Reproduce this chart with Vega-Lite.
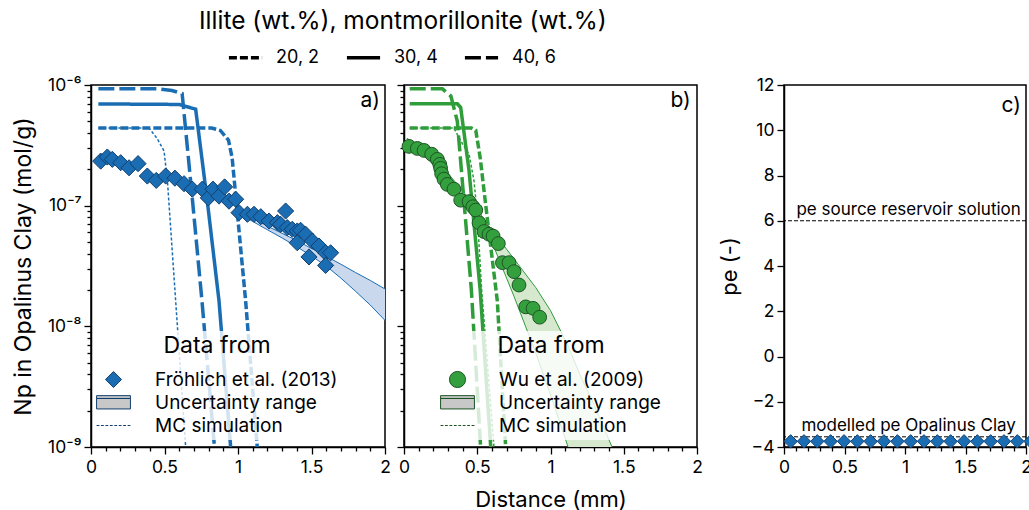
{
  "$schema": "https://vega.github.io/schema/vega-lite/v6.json",
  "padding": {"left": 11, "top": 8, "right": 0, "bottom": 0},
  "title": {"text": "Illite (wt.%), montmorillonite (wt.%)", "anchor": "start", "frame": "group", "dx": 108, "offset": 5, "fontSize": 24.5, "fontWeight": "normal", "color": "black"},
  "config": {
    "font": "Inter",
    "view": {"stroke": "black", "strokeWidth": 1.5},
    "axis": {"domainColor": "black", "domainWidth": 1.5, "tickColor": "black", "tickWidth": 1.3, "labelFontSize": 17.5, "labelColor": "black", "titleFontSize": 22, "titleFontWeight": "normal", "titleColor": "black", "grid": false, "labelFlush": false, "labelOverlap": false, "labelPadding": 3, "titleLimit": 600},
    "legend": {"labelColor": "black", "titleColor": "black", "titleFontWeight": "normal", "labelLimit": 400, "titleLimit": 600}
  },
  "datasets": {
    "ptsA": [
      {"x": 0.066, "y": 2.34e-7, "src": "Fröhlich et al. (2013)"},
      {"x": 0.111, "y": 2.53e-7, "src": "Fröhlich et al. (2013)"},
      {"x": 0.145, "y": 2.42e-7, "src": "Fröhlich et al. (2013)"},
      {"x": 0.202, "y": 2.27e-7, "src": "Fröhlich et al. (2013)"},
      {"x": 0.259, "y": 2.06e-7, "src": "Fröhlich et al. (2013)"},
      {"x": 0.320, "y": 2.23e-7, "src": "Fröhlich et al. (2013)"},
      {"x": 0.383, "y": 1.76e-7, "src": "Fröhlich et al. (2013)"},
      {"x": 0.444, "y": 1.62e-7, "src": "Fröhlich et al. (2013)"},
      {"x": 0.508, "y": 1.76e-7, "src": "Fröhlich et al. (2013)"},
      {"x": 0.571, "y": 1.69e-7, "src": "Fröhlich et al. (2013)"},
      {"x": 0.633, "y": 1.52e-7, "src": "Fröhlich et al. (2013)"},
      {"x": 0.689, "y": 1.37e-7, "src": "Fröhlich et al. (2013)"},
      {"x": 0.757, "y": 1.37e-7, "src": "Fröhlich et al. (2013)"},
      {"x": 0.798, "y": 1.16e-7, "src": "Fröhlich et al. (2013)"},
      {"x": 0.830, "y": 1.37e-7, "src": "Fröhlich et al. (2013)"},
      {"x": 0.871, "y": 1.20e-7, "src": "Fröhlich et al. (2013)"},
      {"x": 0.909, "y": 1.43e-7, "src": "Fröhlich et al. (2013)"},
      {"x": 0.939, "y": 1.09e-7, "src": "Fröhlich et al. (2013)"},
      {"x": 0.984, "y": 1.13e-7, "src": "Fröhlich et al. (2013)"},
      {"x": 1.007, "y": 8.75e-8, "src": "Fröhlich et al. (2013)"},
      {"x": 1.064, "y": 8.48e-8, "src": "Fröhlich et al. (2013)"},
      {"x": 1.109, "y": 8.48e-8, "src": "Fröhlich et al. (2013)"},
      {"x": 1.155, "y": 8.1e-8, "src": "Fröhlich et al. (2013)"},
      {"x": 1.211, "y": 7.46e-8, "src": "Fröhlich et al. (2013)"},
      {"x": 1.268, "y": 7.23e-8, "src": "Fröhlich et al. (2013)"},
      {"x": 1.290, "y": 7.0e-8, "src": "Fröhlich et al. (2013)"},
      {"x": 1.324, "y": 9.03e-8, "src": "Fröhlich et al. (2013)"},
      {"x": 1.335, "y": 6.58e-8, "src": "Fröhlich et al. (2013)"},
      {"x": 1.369, "y": 6.37e-8, "src": "Fröhlich et al. (2013)"},
      {"x": 1.403, "y": 6.17e-8, "src": "Fröhlich et al. (2013)"},
      {"x": 1.426, "y": 6.25e-8, "src": "Fröhlich et al. (2013)"},
      {"x": 1.460, "y": 5.8e-8, "src": "Fröhlich et al. (2013)"},
      {"x": 1.403, "y": 4.93e-8, "src": "Fröhlich et al. (2013)"},
      {"x": 1.506, "y": 5.09e-8, "src": "Fröhlich et al. (2013)"},
      {"x": 1.551, "y": 4.63e-8, "src": "Fröhlich et al. (2013)"},
      {"x": 1.483, "y": 3.76e-8, "src": "Fröhlich et al. (2013)"},
      {"x": 1.596, "y": 4.07e-8, "src": "Fröhlich et al. (2013)"},
      {"x": 1.630, "y": 4.07e-8, "src": "Fröhlich et al. (2013)"},
      {"x": 1.596, "y": 3.2e-8, "src": "Fröhlich et al. (2013)"}
    ],
    "bandA": [
      {"x": 1.0, "y": 9.1e-8, "y2": 8.7e-8},
      {"x": 1.1, "y": 7.9e-8, "y2": 7.4e-8},
      {"x": 1.2, "y": 6.76e-8, "y2": 6.31e-8},
      {"x": 1.3, "y": 5.9e-8, "y2": 5.4e-8},
      {"x": 1.4, "y": 5.13e-8, "y2": 4.57e-8},
      {"x": 1.5, "y": 4.42e-8, "y2": 3.83e-8},
      {"x": 1.6, "y": 3.8e-8, "y2": 3.16e-8},
      {"x": 1.7, "y": 3.27e-8, "y2": 2.51e-8},
      {"x": 1.8, "y": 2.79e-8, "y2": 1.95e-8},
      {"x": 1.9, "y": 2.4e-8, "y2": 1.5e-8},
      {"x": 2.0, "y": 2.04e-8, "y2": 1.12e-8}
    ],
    "linesA": [
      {"x": 0.05, "y": 9.3e-7, "clay": "40, 6"},
      {"x": 0.45, "y": 9.3e-7, "clay": "40, 6"},
      {"x": 0.55, "y": 9.0e-7, "clay": "40, 6"},
      {"x": 0.62, "y": 8.5e-7, "clay": "40, 6"},
      {"x": 0.69, "y": 1.12e-7, "clay": "40, 6"},
      {"x": 0.755, "y": 1.62e-8, "clay": "40, 6"},
      {"x": 0.84, "y": 1e-9, "clay": "40, 6"},
      {"x": 0.05, "y": 6.97e-7, "clay": "30, 4"},
      {"x": 0.60, "y": 6.9e-7, "clay": "30, 4"},
      {"x": 0.712, "y": 6.3e-7, "clay": "30, 4"},
      {"x": 0.79, "y": 1.12e-7, "clay": "30, 4"},
      {"x": 0.871, "y": 1.62e-8, "clay": "30, 4"},
      {"x": 0.95, "y": 1e-9, "clay": "30, 4"},
      {"x": 0.05, "y": 4.4e-7, "clay": "20, 2"},
      {"x": 0.82, "y": 4.4e-7, "clay": "20, 2"},
      {"x": 0.88, "y": 4.2e-7, "clay": "20, 2"},
      {"x": 0.935, "y": 3.5e-7, "clay": "20, 2"},
      {"x": 0.96, "y": 2.5e-7, "clay": "20, 2"},
      {"x": 1.052, "y": 1.62e-8, "clay": "20, 2"},
      {"x": 1.131, "y": 1e-9, "clay": "20, 2"}
    ],
    "mcA": [
      {"x": 0.05, "y": 4.4e-7},
      {"x": 0.395, "y": 4.4e-7},
      {"x": 0.45, "y": 3.6e-7},
      {"x": 0.497, "y": 2.84e-7},
      {"x": 0.52, "y": 1.6e-7},
      {"x": 0.576, "y": 1.62e-8},
      {"x": 0.644, "y": 1e-9}
    ],
    "ptsB": [
      {"x": 0.034, "y": 3.1e-7, "src": "Wu et al. (2009)"},
      {"x": 0.091, "y": 2.98e-7, "src": "Wu et al. (2009)"},
      {"x": 0.137, "y": 2.87e-7, "src": "Wu et al. (2009)"},
      {"x": 0.189, "y": 2.67e-7, "src": "Wu et al. (2009)"},
      {"x": 0.228, "y": 2.42e-7, "src": "Wu et al. (2009)"},
      {"x": 0.244, "y": 2.2e-7, "src": "Wu et al. (2009)"},
      {"x": 0.250, "y": 2.04e-7, "src": "Wu et al. (2009)"},
      {"x": 0.257, "y": 1.84e-7, "src": "Wu et al. (2009)"},
      {"x": 0.273, "y": 1.66e-7, "src": "Wu et al. (2009)"},
      {"x": 0.296, "y": 1.5e-7, "src": "Wu et al. (2009)"},
      {"x": 0.341, "y": 1.37e-7, "src": "Wu et al. (2009)"},
      {"x": 0.387, "y": 1.11e-7, "src": "Wu et al. (2009)"},
      {"x": 0.444, "y": 1.08e-7, "src": "Wu et al. (2009)"},
      {"x": 0.47, "y": 9.8e-8, "src": "Wu et al. (2009)"},
      {"x": 0.49, "y": 9.2e-8, "src": "Wu et al. (2009)"},
      {"x": 0.512, "y": 7.2e-8, "src": "Wu et al. (2009)"},
      {"x": 0.546, "y": 6.1e-8, "src": "Wu et al. (2009)"},
      {"x": 0.580, "y": 5.8e-8, "src": "Wu et al. (2009)"},
      {"x": 0.608, "y": 5.6e-8, "src": "Wu et al. (2009)"},
      {"x": 0.644, "y": 4.85e-8, "src": "Wu et al. (2009)"},
      {"x": 0.672, "y": 3.37e-8, "src": "Wu et al. (2009)"},
      {"x": 0.717, "y": 3.37e-8, "src": "Wu et al. (2009)"},
      {"x": 0.751, "y": 2.84e-8, "src": "Wu et al. (2009)"},
      {"x": 0.785, "y": 2.2e-8, "src": "Wu et al. (2009)"},
      {"x": 0.831, "y": 1.45e-8, "src": "Wu et al. (2009)"},
      {"x": 0.881, "y": 1.41e-8, "src": "Wu et al. (2009)"},
      {"x": 0.926, "y": 1.19e-8, "src": "Wu et al. (2009)"}
    ],
    "bandB": [
      {"x": 0.02, "y": 3.63e-7, "y2": 3.63e-7},
      {"x": 0.15, "y": 2.75e-7, "y2": 2.51e-7},
      {"x": 0.3, "y": 1.86e-7, "y2": 1.66e-7},
      {"x": 0.45, "y": 1.12e-7, "y2": 1.02e-7},
      {"x": 0.6, "y": 6.3e-8, "y2": 5.0e-8},
      {"x": 0.75, "y": 3.63e-8, "y2": 1.78e-8},
      {"x": 0.9, "y": 2.09e-8, "y2": 6.0e-9},
      {"x": 1.0, "y": 1.35e-8, "y2": 2.7e-9},
      {"x": 1.12, "y": 6.9e-9, "y2": 1.0e-9},
      {"x": 1.2, "y": 4.0e-9, "y2": 5.0e-10},
      {"x": 1.3, "y": 2.2e-9, "y2": 2.2e-10},
      {"x": 1.42, "y": 1.0e-9, "y2": 8e-11}
    ],
    "linesB": [
      {"x": 0.039, "y": 9.3e-7, "clay": "40, 6"},
      {"x": 0.262, "y": 9.3e-7, "clay": "40, 6"},
      {"x": 0.32, "y": 8.1e-7, "clay": "40, 6"},
      {"x": 0.364, "y": 5.0e-7, "clay": "40, 6"},
      {"x": 0.46, "y": 2.0e-8, "clay": "40, 6"},
      {"x": 0.523, "y": 1e-9, "clay": "40, 6"},
      {"x": 0.039, "y": 7.0e-7, "clay": "30, 4"},
      {"x": 0.364, "y": 7.0e-7, "clay": "30, 4"},
      {"x": 0.387, "y": 6.5e-7, "clay": "30, 4"},
      {"x": 0.444, "y": 1.95e-7, "clay": "30, 4"},
      {"x": 0.52, "y": 2.0e-8, "clay": "30, 4"},
      {"x": 0.592, "y": 1e-9, "clay": "30, 4"},
      {"x": 0.039, "y": 4.4e-7, "clay": "20, 2"},
      {"x": 0.46, "y": 4.4e-7, "clay": "20, 2"},
      {"x": 0.49, "y": 4.2e-7, "clay": "20, 2"},
      {"x": 0.52, "y": 2.5e-7, "clay": "20, 2"},
      {"x": 0.557, "y": 1.03e-7, "clay": "20, 2"},
      {"x": 0.637, "y": 1.62e-8, "clay": "20, 2"},
      {"x": 0.694, "y": 1e-9, "clay": "20, 2"}
    ],
    "mcB": [
      {"x": 0.039, "y": 4.4e-7},
      {"x": 0.34, "y": 4.4e-7},
      {"x": 0.39, "y": 3.4e-7},
      {"x": 0.444, "y": 2.67e-7},
      {"x": 0.478, "y": 1.6e-7},
      {"x": 0.5, "y": 8.5e-8},
      {"x": 0.53, "y": 2.0e-8},
      {"x": 0.614, "y": 1e-9}
    ],
    "ptsC": [
      {"x": 0.055, "y": -3.75}, {"x": 0.165, "y": -3.75}, {"x": 0.275, "y": -3.75},
      {"x": 0.385, "y": -3.75}, {"x": 0.496, "y": -3.75}, {"x": 0.606, "y": -3.75},
      {"x": 0.716, "y": -3.75}, {"x": 0.826, "y": -3.75}, {"x": 0.937, "y": -3.75},
      {"x": 1.047, "y": -3.75}, {"x": 1.157, "y": -3.75}, {"x": 1.267, "y": -3.75},
      {"x": 1.377, "y": -3.75}, {"x": 1.488, "y": -3.75}, {"x": 1.598, "y": -3.75},
      {"x": 1.708, "y": -3.75}, {"x": 1.818, "y": -3.75}, {"x": 1.928, "y": -3.75},
      {"x": 2.038, "y": -3.75}
    ],
    "peLevels": [
      {"pe": 6, "label": "pe source reservoir solution"},
      {"pe": -3.55, "label": "modelled pe Opalinus Clay"}
    ]
  },
  "bounds": "flush",
  "spacing": 19,
  "resolve": {
    "scale": {"color": "independent", "shape": "independent"},
    "legend": {"color": "independent", "shape": "independent"}
  },
  "hconcat": [
    {
      "width": 294, "height": 362,
      "layer": [
        {"data": {"name": "bandA"}, "mark": {"type": "area", "color": "#c9d8ec", "clip": true},
         "encoding": {
           "x": {"field": "x", "type": "quantitative", "scale": {"domain": [0, 2], "nice": false}, "axis": {"title": null, "values": [0,0.1,0.2,0.3,0.4,0.5,0.6,0.7,0.8,0.9,1,1.1,1.2,1.3,1.4,1.5,1.6,1.7,1.8,1.9,2], "tickSize": {"condition": {"test": "abs(datum.value*2-round(datum.value*2))<0.001", "value": 7}, "value": 4}, "labelExpr": "abs(datum.value*2-round(datum.value*2))<0.001 ? format(datum.value, '~g') : ''", "labelPadding": 4}},
           "y": {"field": "y", "type": "quantitative", "scale": {"type": "log", "domain": [1e-9, 1e-6], "nice": false},
            "axis": {"title": "Np in Opalinus Clay (mol/g)", "titlePadding": 12, "titleFontSize": 23,
              "values": [1e-9,2e-9,3e-9,4e-9,5e-9,6e-9,7e-9,8e-9,9e-9,1e-8,2e-8,3e-8,4e-8,5e-8,6e-8,7e-8,8e-8,9e-8,1e-7,2e-7,3e-7,4e-7,5e-7,6e-7,7e-7,8e-7,9e-7,1e-6],
              "tickSize": {"condition": {"test": "abs(log(datum.value)/LN10-round(log(datum.value)/LN10))<0.001", "value": 7}, "value": 4},
              "labelExpr": "abs(log(datum.value)/LN10-round(log(datum.value)/LN10))<0.001 ? '10⁻' + ['⁰','¹','²','³','⁴','⁵','⁶','⁷','⁸','⁹'][-round(log(datum.value)/LN10)] : ''"}},
           "y2": {"field": "y2"}}},
        {"data": {"name": "bandA"}, "mark": {"type": "line", "color": "#1a6db3", "strokeWidth": 1, "clip": true},
         "encoding": {
           "x": {"field": "x", "type": "quantitative", "scale": {"domain": [0, 2], "nice": false}, "axis": {"title": null, "values": [0,0.1,0.2,0.3,0.4,0.5,0.6,0.7,0.8,0.9,1,1.1,1.2,1.3,1.4,1.5,1.6,1.7,1.8,1.9,2], "tickSize": {"condition": {"test": "abs(datum.value*2-round(datum.value*2))<0.001", "value": 7}, "value": 4}, "labelExpr": "abs(datum.value*2-round(datum.value*2))<0.001 ? format(datum.value, '~g') : ''", "labelPadding": 4}},
           "y": {"field": "y", "type": "quantitative", "scale": {"type": "log", "domain": [1e-9, 1e-6], "nice": false}}}},
        {"data": {"name": "bandA"}, "mark": {"type": "line", "color": "#1a6db3", "strokeWidth": 1, "clip": true},
         "encoding": {
           "x": {"field": "x", "type": "quantitative", "scale": {"domain": [0, 2], "nice": false}, "axis": {"title": null, "values": [0,0.1,0.2,0.3,0.4,0.5,0.6,0.7,0.8,0.9,1,1.1,1.2,1.3,1.4,1.5,1.6,1.7,1.8,1.9,2], "tickSize": {"condition": {"test": "abs(datum.value*2-round(datum.value*2))<0.001", "value": 7}, "value": 4}, "labelExpr": "abs(datum.value*2-round(datum.value*2))<0.001 ? format(datum.value, '~g') : ''", "labelPadding": 4}},
           "y": {"field": "y2", "type": "quantitative", "scale": {"type": "log", "domain": [1e-9, 1e-6], "nice": false}}}},
        {"data": {"name": "linesA"}, "mark": {"type": "line", "color": "#1a6db3", "strokeWidth": 3.5, "strokeCap": "butt", "clip": true},
         "encoding": {
           "x": {"field": "x", "type": "quantitative", "scale": {"domain": [0, 2], "nice": false}, "axis": {"title": null, "values": [0,0.1,0.2,0.3,0.4,0.5,0.6,0.7,0.8,0.9,1,1.1,1.2,1.3,1.4,1.5,1.6,1.7,1.8,1.9,2], "tickSize": {"condition": {"test": "abs(datum.value*2-round(datum.value*2))<0.001", "value": 7}, "value": 4}, "labelExpr": "abs(datum.value*2-round(datum.value*2))<0.001 ? format(datum.value, '~g') : ''", "labelPadding": 4}},
           "y": {"field": "y", "type": "quantitative", "scale": {"type": "log", "domain": [1e-9, 1e-6], "nice": false}},
           "strokeDash": {"field": "clay", "type": "nominal", "scale": {"domain": ["20, 2", "30, 4", "40, 6"], "range": [[8, 3], [1, 0], [16, 5]]},
             "legend": {"title": null, "orient": "none", "legendX": 136, "legendY": -46, "direction": "horizontal",
               "labelFontSize": 18, "symbolSize": 1100, "symbolStrokeWidth": 3.5,
               "symbolStrokeColor": "black", "labelOffset": 12, "columnPadding": 19, "padding": 0}}}},
        {"data": {"name": "mcA"}, "mark": {"type": "line", "color": "#1a6db3", "strokeWidth": 1.5, "strokeDash": [3, 2], "clip": true},
         "encoding": {
           "x": {"field": "x", "type": "quantitative", "scale": {"domain": [0, 2], "nice": false}, "axis": {"title": null, "values": [0,0.1,0.2,0.3,0.4,0.5,0.6,0.7,0.8,0.9,1,1.1,1.2,1.3,1.4,1.5,1.6,1.7,1.8,1.9,2], "tickSize": {"condition": {"test": "abs(datum.value*2-round(datum.value*2))<0.001", "value": 7}, "value": 4}, "labelExpr": "abs(datum.value*2-round(datum.value*2))<0.001 ? format(datum.value, '~g') : ''", "labelPadding": 4}},
           "y": {"field": "y", "type": "quantitative", "scale": {"type": "log", "domain": [1e-9, 1e-6], "nice": false}}}},
        {"data": {"name": "ptsA"}, "mark": {"type": "point", "filled": true, "size": 260, "stroke": "#123f6e", "strokeWidth": 1, "opacity": 1},
         "encoding": {
           "x": {"field": "x", "type": "quantitative", "scale": {"domain": [0, 2], "nice": false}, "axis": {"title": null, "values": [0,0.1,0.2,0.3,0.4,0.5,0.6,0.7,0.8,0.9,1,1.1,1.2,1.3,1.4,1.5,1.6,1.7,1.8,1.9,2], "tickSize": {"condition": {"test": "abs(datum.value*2-round(datum.value*2))<0.001", "value": 7}, "value": 4}, "labelExpr": "abs(datum.value*2-round(datum.value*2))<0.001 ? format(datum.value, '~g') : ''", "labelPadding": 4}},
           "y": {"field": "y", "type": "quantitative", "scale": {"type": "log", "domain": [1e-9, 1e-6], "nice": false}},
           "color": {"field": "src", "type": "nominal", "scale": {"domain": ["Fröhlich et al. (2013)", "Uncertainty range", "MC simulation"], "range": ["#1a6db3", "#c8c8c8", "#1a6db3"]},
             "legend": {"title": "Data from", "orient": "none", "legendX": 2, "legendY": 246, "titleFontSize": 23, "titleAnchor": "middle", "titlePadding": 12, "labelFontSize": 19, "symbolSize": 260, "symbolStrokeWidth": 1, "symbolOffset": 7, "labelOffset": 32, "rowPadding": 3, "padding": 4, "fillColor": "rgba(255,255,255,0.8)", "zindex": 1}},
           "shape": {"field": "src", "type": "nominal", "scale": {"domain": ["Fröhlich et al. (2013)", "Uncertainty range", "MC simulation"], "range": ["diamond", "M-2.1,-0.85H2.1V-0.5H-2.1Z M-2.1,-0.5H2.1V0.8H-2.1Z", "M-2.1,0H-1.75M-1.55,0H-1.2M-1.0,0H-0.65M-0.45,0H-0.1M0.1,0H0.45M0.65,0H1.0M1.2,0H1.55M1.75,0H2.1"]},
             "legend": {"title": "Data from", "orient": "none", "legendX": 2, "legendY": 246, "titleFontSize": 23, "titleAnchor": "middle", "titlePadding": 12, "labelFontSize": 19, "symbolSize": 260, "symbolStrokeWidth": 1, "symbolOffset": 7, "labelOffset": 32, "rowPadding": 3, "padding": 4, "fillColor": "rgba(255,255,255,0.8)", "zindex": 1}}}},
        {"data": {"values": [{"t": "a)"}]}, "mark": {"type": "text", "fontSize": 21, "align": "right", "baseline": "middle"},
         "encoding": {
           "x": {"datum": 1.965, "type": "quantitative", "scale": {"domain": [0, 2], "nice": false}, "axis": {"title": null, "values": [0,0.1,0.2,0.3,0.4,0.5,0.6,0.7,0.8,0.9,1,1.1,1.2,1.3,1.4,1.5,1.6,1.7,1.8,1.9,2], "tickSize": {"condition": {"test": "abs(datum.value*2-round(datum.value*2))<0.001", "value": 7}, "value": 4}, "labelExpr": "abs(datum.value*2-round(datum.value*2))<0.001 ? format(datum.value, '~g') : ''", "labelPadding": 4}},
           "y": {"datum": 7.36e-7, "type": "quantitative", "scale": {"type": "log", "domain": [1e-9, 1e-6], "nice": false}}, "text": {"field": "t"}}}
      ]
    },
    {
      "width": 293, "height": 362,
      "layer": [
        {"data": {"name": "bandB"}, "mark": {"type": "area", "color": "#d6e9cf", "clip": true},
         "encoding": {
           "x": {"field": "x", "type": "quantitative", "scale": {"domain": [0, 2], "nice": false}, "axis": {"title": "Distance (mm)", "titlePadding": 14, "values": [0,0.1,0.2,0.3,0.4,0.5,0.6,0.7,0.8,0.9,1,1.1,1.2,1.3,1.4,1.5,1.6,1.7,1.8,1.9,2], "tickSize": {"condition": {"test": "abs(datum.value*2-round(datum.value*2))<0.001", "value": 7}, "value": 4}, "labelExpr": "abs(datum.value*2-round(datum.value*2))<0.001 ? format(datum.value, '~g') : ''", "labelPadding": 4}},
           "y": {"field": "y", "type": "quantitative", "scale": {"type": "log", "domain": [1e-9, 1e-6], "nice": false},
            "axis": {"title": null, "labels": false,
              "values": [1e-9,2e-9,3e-9,4e-9,5e-9,6e-9,7e-9,8e-9,9e-9,1e-8,2e-8,3e-8,4e-8,5e-8,6e-8,7e-8,8e-8,9e-8,1e-7,2e-7,3e-7,4e-7,5e-7,6e-7,7e-7,8e-7,9e-7,1e-6],
              "tickSize": {"condition": {"test": "abs(log(datum.value)/LN10-round(log(datum.value)/LN10))<0.001", "value": 7}, "value": 4}}},
           "y2": {"field": "y2"}}},
        {"data": {"name": "bandB"}, "mark": {"type": "line", "color": "#2e9d3a", "strokeWidth": 1, "clip": true},
         "encoding": {
           "x": {"field": "x", "type": "quantitative", "scale": {"domain": [0, 2], "nice": false}, "axis": {"title": "Distance (mm)", "titlePadding": 14, "values": [0,0.1,0.2,0.3,0.4,0.5,0.6,0.7,0.8,0.9,1,1.1,1.2,1.3,1.4,1.5,1.6,1.7,1.8,1.9,2], "tickSize": {"condition": {"test": "abs(datum.value*2-round(datum.value*2))<0.001", "value": 7}, "value": 4}, "labelExpr": "abs(datum.value*2-round(datum.value*2))<0.001 ? format(datum.value, '~g') : ''", "labelPadding": 4}},
           "y": {"field": "y", "type": "quantitative", "scale": {"type": "log", "domain": [1e-9, 1e-6], "nice": false}}}},
        {"data": {"name": "bandB"}, "mark": {"type": "line", "color": "#2e9d3a", "strokeWidth": 1, "clip": true},
         "encoding": {
           "x": {"field": "x", "type": "quantitative", "scale": {"domain": [0, 2], "nice": false}, "axis": {"title": "Distance (mm)", "titlePadding": 14, "values": [0,0.1,0.2,0.3,0.4,0.5,0.6,0.7,0.8,0.9,1,1.1,1.2,1.3,1.4,1.5,1.6,1.7,1.8,1.9,2], "tickSize": {"condition": {"test": "abs(datum.value*2-round(datum.value*2))<0.001", "value": 7}, "value": 4}, "labelExpr": "abs(datum.value*2-round(datum.value*2))<0.001 ? format(datum.value, '~g') : ''", "labelPadding": 4}},
           "y": {"field": "y2", "type": "quantitative", "scale": {"type": "log", "domain": [1e-9, 1e-6], "nice": false}}}},
        {"data": {"name": "linesB"}, "mark": {"type": "line", "color": "#2e9d3a", "strokeWidth": 3.5, "strokeCap": "butt", "clip": true},
         "encoding": {
           "x": {"field": "x", "type": "quantitative", "scale": {"domain": [0, 2], "nice": false}, "axis": {"title": "Distance (mm)", "titlePadding": 14, "values": [0,0.1,0.2,0.3,0.4,0.5,0.6,0.7,0.8,0.9,1,1.1,1.2,1.3,1.4,1.5,1.6,1.7,1.8,1.9,2], "tickSize": {"condition": {"test": "abs(datum.value*2-round(datum.value*2))<0.001", "value": 7}, "value": 4}, "labelExpr": "abs(datum.value*2-round(datum.value*2))<0.001 ? format(datum.value, '~g') : ''", "labelPadding": 4}},
           "y": {"field": "y", "type": "quantitative", "scale": {"type": "log", "domain": [1e-9, 1e-6], "nice": false}},
           "strokeDash": {"field": "clay", "type": "nominal", "scale": {"domain": ["20, 2", "30, 4", "40, 6"], "range": [[8, 3], [1, 0], [16, 5]]},
             "legend": {"title": null, "orient": "none", "legendX": 136, "legendY": -46, "direction": "horizontal",
               "labelFontSize": 18, "symbolSize": 1100, "symbolStrokeWidth": 3.5,
               "symbolStrokeColor": "black", "labelOffset": 12, "columnPadding": 19, "padding": 0}}}},
        {"data": {"name": "mcB"}, "mark": {"type": "line", "color": "#2e9d3a", "strokeWidth": 1.5, "strokeDash": [3, 2], "clip": true},
         "encoding": {
           "x": {"field": "x", "type": "quantitative", "scale": {"domain": [0, 2], "nice": false}, "axis": {"title": "Distance (mm)", "titlePadding": 14, "values": [0,0.1,0.2,0.3,0.4,0.5,0.6,0.7,0.8,0.9,1,1.1,1.2,1.3,1.4,1.5,1.6,1.7,1.8,1.9,2], "tickSize": {"condition": {"test": "abs(datum.value*2-round(datum.value*2))<0.001", "value": 7}, "value": 4}, "labelExpr": "abs(datum.value*2-round(datum.value*2))<0.001 ? format(datum.value, '~g') : ''", "labelPadding": 4}},
           "y": {"field": "y", "type": "quantitative", "scale": {"type": "log", "domain": [1e-9, 1e-6], "nice": false}}}},
        {"data": {"name": "ptsB"}, "mark": {"type": "point", "filled": true, "size": 190, "stroke": "#1d5426", "strokeWidth": 1, "opacity": 1},
         "encoding": {
           "x": {"field": "x", "type": "quantitative", "scale": {"domain": [0, 2], "nice": false}, "axis": {"title": "Distance (mm)", "titlePadding": 14, "values": [0,0.1,0.2,0.3,0.4,0.5,0.6,0.7,0.8,0.9,1,1.1,1.2,1.3,1.4,1.5,1.6,1.7,1.8,1.9,2], "tickSize": {"condition": {"test": "abs(datum.value*2-round(datum.value*2))<0.001", "value": 7}, "value": 4}, "labelExpr": "abs(datum.value*2-round(datum.value*2))<0.001 ? format(datum.value, '~g') : ''", "labelPadding": 4}},
           "y": {"field": "y", "type": "quantitative", "scale": {"type": "log", "domain": [1e-9, 1e-6], "nice": false}},
           "color": {"field": "src", "type": "nominal", "scale": {"domain": ["Wu et al. (2009)", "Uncertainty range", "MC simulation"], "range": ["#34a03d", "#c8c8c8", "#2e9d3a"]},
             "legend": {"title": "Data from", "orient": "none", "legendX": 33, "legendY": 246, "titleFontSize": 23, "titleAnchor": "middle", "titlePadding": 12, "labelFontSize": 19, "symbolSize": 260, "symbolStrokeWidth": 1, "symbolOffset": 7, "labelOffset": 32, "rowPadding": 3, "padding": 4, "fillColor": "rgba(255,255,255,0.8)", "zindex": 1}},
           "shape": {"field": "src", "type": "nominal", "scale": {"domain": ["Wu et al. (2009)", "Uncertainty range", "MC simulation"], "range": ["circle", "M-2.1,-0.85H2.1V-0.5H-2.1Z M-2.1,-0.5H2.1V0.8H-2.1Z", "M-2.1,0H-1.75M-1.55,0H-1.2M-1.0,0H-0.65M-0.45,0H-0.1M0.1,0H0.45M0.65,0H1.0M1.2,0H1.55M1.75,0H2.1"]},
             "legend": {"title": "Data from", "orient": "none", "legendX": 33, "legendY": 246, "titleFontSize": 23, "titleAnchor": "middle", "titlePadding": 12, "labelFontSize": 19, "symbolSize": 260, "symbolStrokeWidth": 1, "symbolOffset": 7, "labelOffset": 32, "rowPadding": 3, "padding": 4, "fillColor": "rgba(255,255,255,0.8)", "zindex": 1}}}},
        {"data": {"values": [{"t": "b)"}]}, "mark": {"type": "text", "fontSize": 21, "align": "right", "baseline": "middle"},
         "encoding": {
           "x": {"datum": 1.957, "type": "quantitative", "scale": {"domain": [0, 2], "nice": false}, "axis": {"title": "Distance (mm)", "titlePadding": 14, "values": [0,0.1,0.2,0.3,0.4,0.5,0.6,0.7,0.8,0.9,1,1.1,1.2,1.3,1.4,1.5,1.6,1.7,1.8,1.9,2], "tickSize": {"condition": {"test": "abs(datum.value*2-round(datum.value*2))<0.001", "value": 7}, "value": 4}, "labelExpr": "abs(datum.value*2-round(datum.value*2))<0.001 ? format(datum.value, '~g') : ''", "labelPadding": 4}},
           "y": {"datum": 7.36e-7, "type": "quantitative", "scale": {"type": "log", "domain": [1e-9, 1e-6], "nice": false}}, "text": {"field": "t"}}}
      ]
    },
    {
      "width": 49, "height": 362, "view": {"stroke": null},
      "data": {"values": []},
      "mark": "point",
      "encoding": {}
    },
    {
      "width": 242, "height": 362,
      "layer": [
        {"data": {"name": "peLevels"}, "mark": {"type": "rule", "color": "black", "strokeWidth": 1, "strokeDash": [4, 2]},
         "encoding": {"y": {"field": "pe", "type": "quantitative", "scale": {"domain": [-4, 12], "nice": false}}}},
        {"data": {"name": "peLevels"}, "mark": {"type": "text", "fontSize": 17, "align": "center", "baseline": "alphabetic", "dy": -6},
         "encoding": {
           "x": {"datum": 1.03, "type": "quantitative", "scale": {"domain": [0, 2], "nice": false}, "axis": {"title": null, "values": [0,0.1,0.2,0.3,0.4,0.5,0.6,0.7,0.8,0.9,1,1.1,1.2,1.3,1.4,1.5,1.6,1.7,1.8,1.9,2], "tickSize": {"condition": {"test": "abs(datum.value*2-round(datum.value*2))<0.001", "value": 7}, "value": 4}, "labelExpr": "abs(datum.value*2-round(datum.value*2))<0.001 ? format(datum.value, '~g') : ''", "labelPadding": 4}},
           "y": {"field": "pe", "type": "quantitative", "scale": {"domain": [-4, 12], "nice": false}}, "text": {"field": "label"}}},
        {"data": {"name": "ptsC"}, "mark": {"type": "point", "shape": "diamond", "filled": true, "size": 180, "color": "#1a6db3", "stroke": "#123f6e", "strokeWidth": 1, "opacity": 1},
         "encoding": {
           "x": {"field": "x", "type": "quantitative", "scale": {"domain": [0, 2], "nice": false}, "axis": {"title": null, "values": [0,0.1,0.2,0.3,0.4,0.5,0.6,0.7,0.8,0.9,1,1.1,1.2,1.3,1.4,1.5,1.6,1.7,1.8,1.9,2], "tickSize": {"condition": {"test": "abs(datum.value*2-round(datum.value*2))<0.001", "value": 7}, "value": 4}, "labelExpr": "abs(datum.value*2-round(datum.value*2))<0.001 ? format(datum.value, '~g') : ''", "labelPadding": 4}},
           "y": {"field": "y", "type": "quantitative", "scale": {"domain": [-4, 12], "nice": false},
             "axis": {"title": "pe (-)", "titlePadding": 10, "values": [-4,-3,-2,-1,0,1,2,3,4,5,6,7,8,9,10,11,12],
               "tickSize": {"condition": {"test": "datum.value % 2 == 0", "value": 7}, "value": 4},
               "labelExpr": "datum.value % 2 == 0 ? format(datum.value, 'd') : ''"}}}},
        {"data": {"values": [{"t": "c)"}]}, "mark": {"type": "text", "fontSize": 21, "align": "right", "baseline": "middle"},
         "encoding": {
           "x": {"datum": 1.957, "type": "quantitative", "scale": {"domain": [0, 2], "nice": false}, "axis": {"title": null, "values": [0,0.1,0.2,0.3,0.4,0.5,0.6,0.7,0.8,0.9,1,1.1,1.2,1.3,1.4,1.5,1.6,1.7,1.8,1.9,2], "tickSize": {"condition": {"test": "abs(datum.value*2-round(datum.value*2))<0.001", "value": 7}, "value": 4}, "labelExpr": "abs(datum.value*2-round(datum.value*2))<0.001 ? format(datum.value, '~g') : ''", "labelPadding": 4}},
           "y": {"datum": 11.05, "type": "quantitative", "scale": {"domain": [-4, 12], "nice": false}}, "text": {"field": "t"}}}
      ]
    }
  ]
}
